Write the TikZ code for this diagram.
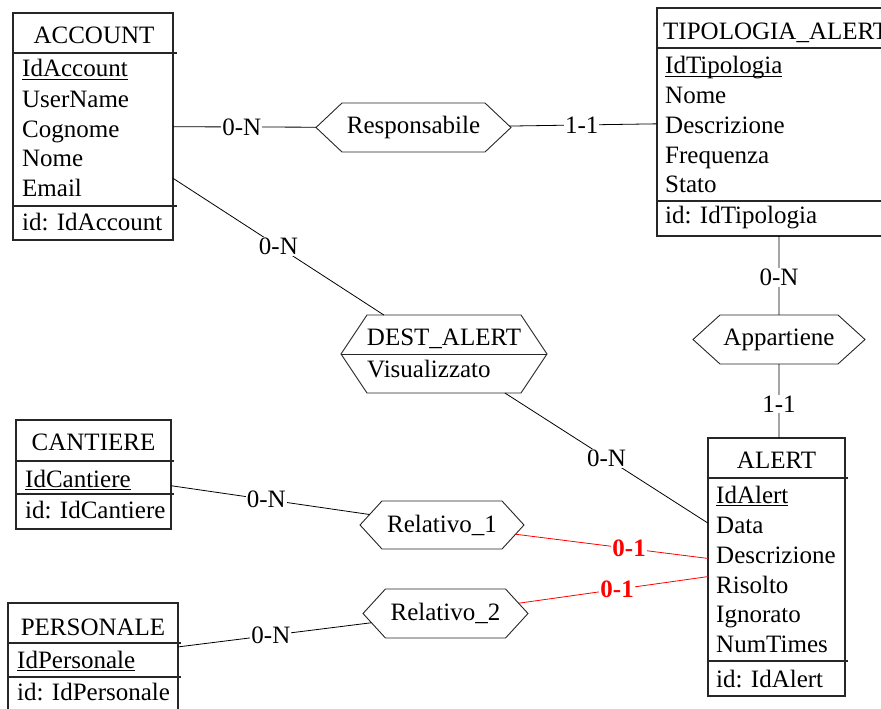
\documentclass[tikz,border=0pt]{standalone}
\usepackage{fontspec}
\setmainfont{Liberation Serif}
\usetikzlibrary{shapes.symbols}
% primary-key attribute: text with a rule just below the baseline
\newcommand{\pkattr}[1]{\setbox0=\hbox{#1}\rlap{\rule[-3pt]{\wd0}{1.1pt}}\box0}
\begin{document}
\begin{tikzpicture}[x=1pt,y=-1pt,
  every node/.style={font=\fontsize{25}{30}\selectfont},
  entity/.style={draw=black!85, line width=1.1pt, inner sep=0pt, outer sep=0pt},
  sepline/.style={draw=black!85, line width=1.1pt},
  attr/.style={inner sep=0pt, anchor=base west},
  ttl/.style={inner sep=0pt, anchor=base},
  rel/.style={shape=signal, signal to=west and east, draw=black!85,
    line width=0.9pt, inner sep=0pt, outer sep=0pt},
  link/.style={line width=0.8pt, black},
  redlink/.style={line width=0.8pt, red},
  card/.style={fill=white, inner sep=1pt},
  redcard/.style={fill=white, inner sep=1pt, text=red,
    font=\fontsize{25}{30}\selectfont\bfseries},
]
\clip (0,0) rectangle (881,709);

% ---------------- entities ----------------
% ACCOUNT
\node[entity, minimum width=160, minimum height=227] (account) at (93,126.5) {};
\draw[sepline] (13,53) -- (177,53);
\draw[sepline] (13,206) -- (177,206);
\node[ttl] (account-t) at (94,44) {ACCOUNT};
\node[attr] (account-a1) at (22,77) {\pkattr{IdAccount}};
\node[attr] (account-a2) at (22,107) {UserName};
\node[attr] (account-a3) at (22,137) {Cognome};
\node[attr] (account-a4) at (22,166) {Nome};
\node[attr] (account-a5) at (22,196) {Email};
\node[attr] (account-id) at (22,230) {id: IdAccount};

% TIPOLOGIA_ALERT (extends past the right edge)
\node[entity, minimum width=244, minimum height=228] (tipo) at (779,122) {};
\draw[sepline] (657,48) -- (905,48);
\draw[sepline] (657,201) -- (905,201);
\node[attr] (tipo-t) at (663,40) {TIPOLOGIA\_ALERT};
\node[attr] (tipo-a1) at (665,74) {\pkattr{IdTipologia}};
\node[attr] (tipo-a2) at (665,103.5) {Nome};
\node[attr] (tipo-a3) at (665,133) {Descrizione};
\node[attr] (tipo-a4) at (665,163) {Frequenza};
\node[attr] (tipo-a5) at (665,192.5) {Stato};
\node[attr] (tipo-id) at (665,223) {id: IdTipologia};

% ALERT
\node[entity, minimum width=137, minimum height=258] (alert) at (776.5,567) {};
\draw[sepline] (708,478) -- (848,478);
\draw[sepline] (708,661) -- (848,661);
\node[ttl] (alert-t) at (776.5,468) {ALERT};
\node[attr] (alert-a1) at (716,503) {\pkattr{IdAlert}};
\node[attr] (alert-a2) at (716,533) {Data};
\node[attr] (alert-a3) at (716,563) {Descrizione};
\node[attr] (alert-a4) at (716,593) {Risolto};
\node[attr] (alert-a5) at (716,622) {Ignorato};
\node[attr] (alert-a6) at (716,652) {NumTimes};
\node[attr] (alert-id) at (716,687) {id: IdAlert};

% CANTIERE
\node[entity, minimum width=155, minimum height=109] (cant) at (93.5,474.5) {};
\draw[sepline] (16,461) -- (174,461);
\draw[sepline] (16,494) -- (174,494);
\node[ttl] (cant-t) at (93.5,450) {CANTIERE};
\node[attr] (cant-a1) at (25,487) {\pkattr{IdCantiere}};
\node[attr] (cant-id) at (25,518) {id: IdCantiere};

% PERSONALE
\node[entity, minimum width=170, minimum height=109] (pers) at (93,657.5) {};
\draw[sepline] (8,643) -- (181,643);
\draw[sepline] (8,677) -- (181,677);
\node[ttl] (pers-t) at (93,635) {PERSONALE};
\node[attr] (pers-a1) at (17,668) {\pkattr{IdPersonale}};
\node[attr] (pers-id) at (17,700) {id: IdPersonale};

% ---------------- relationships ----------------
\node[rel, minimum width=195, minimum height=49, signal pointer angle=86.6] (resp) at (413.5,127.5) {Responsabile};
\node[rel, minimum width=172, minimum height=49, signal pointer angle=84.4] (app) at (779,339.5) {Appartiene};
\node[rel, minimum width=206, minimum height=78, signal pointer angle=112.6] (dest) at (444,354) {};
\draw[line width=0.9pt, black!85] (dest.west) -- (dest.east);
\node[ttl] (dest-t) at (444,345) {DEST\_ALERT};
\node[attr] (dest-a1) at (367,377) {Visualizzato};
\node[rel, minimum width=164, minimum height=48, signal pointer angle=95] (rel1) at (442,525) {Relativo\_1};
\node[rel, minimum width=165, minimum height=49, signal pointer angle=95] (rel2) at (445.5,613.5) {Relativo\_2};

% ---------------- connectors ----------------
\draw[link] (account) -- node[card, pos=0.48] {0-N} (resp);
\draw[link] (resp) -- node[card, pos=0.49] {1-1} (tipo);
\draw[link] (account) -- node[card, pos=0.50] {0-N} (dest);
\draw[link] (dest) -- node[card, pos=0.50] {0-N} (alert);
\draw[link] (tipo) -- node[card, pos=0.52] {0-N} (app);
\draw[link] (app) -- node[card, pos=0.54] {1-1} (app |- alert.north);
\draw[link] (cant) -- node[card, pos=0.48] {0-N} (rel1);
\draw[link] (pers) -- node[card, pos=0.48] {0-N} (rel2);
\draw[redlink] (rel1) -- node[redcard, pos=0.59] {0-1} (alert);
\draw[redlink] (rel2) -- node[redcard, pos=0.52] {0-1} (alert);
\end{tikzpicture}
\end{document}
